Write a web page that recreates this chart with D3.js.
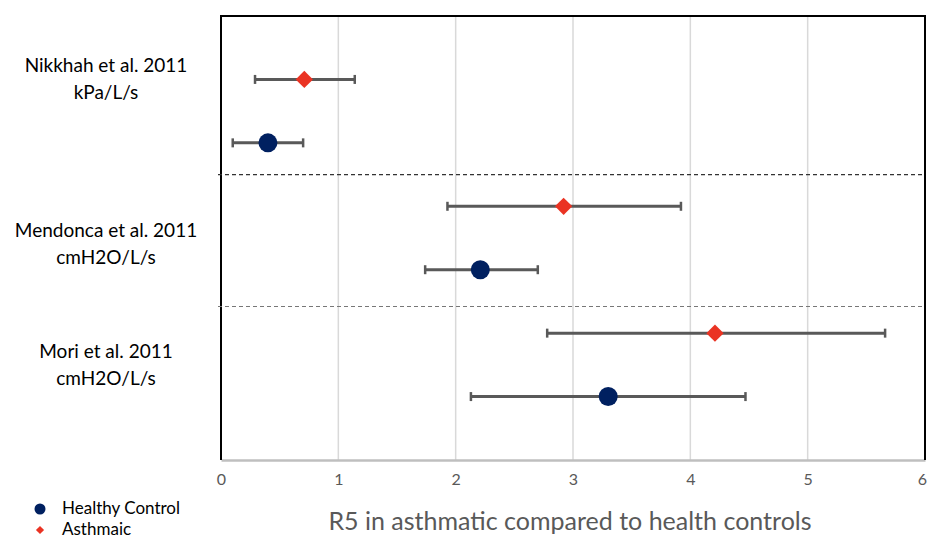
<!DOCTYPE html>
<html>
<head>
<meta charset="utf-8">
<script src="https://cdn.jsdelivr.net/npm/d3@7"></script>
<style>
body { margin: 0; background: #fff; }
text { font-family: Lato, "Open Sans", sans-serif; }
</style>
</head>
<body>
<div id="chart"></div>
<script>
// studies and units shown on the left
const studies = ["Nikkhah et al. 2011", "Mendonca et al. 2011", "Mori et al. 2011"];
const units = ["kPa/L/s", "cmH2O/L/s", "cmH2O/L/s"];
const labelRow = [6, 3.4, 1.5];

// healthy control
const healthyRow = [5, 3, 1];
const healthyMean = [0.40, 2.21, 3.30];
const healthyLow = [0.10, 1.74, 2.13];
const healthyHigh = [0.70, 2.70, 4.47];

// asthmatic
const asthmaRow = [6, 4, 2];
const asthmaMean = [0.71, 2.92, 4.21];
const asthmaLow = [0.29, 1.93, 2.78];
const asthmaHigh = [1.14, 3.92, 5.66];

const separators = [4.5, 2.42];
const xTicks = [0, 1, 2, 3, 4, 5, 6];

const width = 930, height = 539;
const margin = { top: 16, right: 5, bottom: 79, left: 221 };

const svg = d3.select("#chart").append("svg")
    .attr("width", width)
    .attr("height", height);

const x = d3.scaleLinear()
    .domain([0, 6])
    .range([margin.left, width - margin.right]);

const y = d3.scaleLinear()
    .domain([0, 7])
    .range([height - margin.bottom, margin.top]);

// gridlines
svg.append("g")
    .selectAll("line")
    .data(xTicks.slice(1, -1))
    .join("line")
    .attr("x1", d => x(d)).attr("x2", d => x(d))
    .attr("y1", y(7)).attr("y2", y(0))
    .attr("stroke", "#d9d9d9")
    .attr("stroke-width", 1.5);

// x axis
const xAxis = svg.append("g")
    .attr("transform", `translate(0,${y(0)})`)
    .call(d3.axisBottom(x).tickValues(xTicks).tickFormat(d3.format("d")).tickSize(0).tickPadding(14));
xAxis.select(".domain").attr("stroke", "#bfbfbf").attr("stroke-width", 2.5);
xAxis.selectAll("text")
    .attr("fill", "#595959")
    .style("font-size", "16px");
xAxis.selectAll(".tick:last-of-type text").attr("dx", -3);

// frame: left, top, right
svg.append("path")
    .attr("d", `M${x(0)},${y(0)}V${y(7)}H${x(6)}V${y(0)}`)
    .attr("fill", "none")
    .attr("stroke", "#000")
    .attr("stroke-width", 2);

// dashed separators
svg.append("g")
    .selectAll("line")
    .data(separators)
    .join("line")
    .attr("x1", x(0) - 3).attr("x2", x(6))
    .attr("y1", d => y(d)).attr("y2", d => y(d))
    .attr("stroke", (d, i) => i === 0 ? "#333" : "#777")
    .attr("stroke-width", 1.2)
    .attr("stroke-dasharray", "4,3");

// study labels
const labels = svg.append("g")
    .selectAll("text")
    .data(studies)
    .join("text")
    .attr("x", 106)
    .attr("y", (d, i) => y(labelRow[i]))
    .attr("text-anchor", "middle")
    .attr("fill", "#000")
    .style("font-size", "19px");
labels.append("tspan").attr("x", 106).attr("dy", -7).text(d => d);
labels.append("tspan").attr("x", 106).attr("dy", 27).text((d, i) => units[i]);

function errorBars(g, rows, low, high) {
    const bars = g.selectAll("g")
        .data(rows)
        .join("g")
        .attr("stroke", "#595959");
    bars.append("line")
        .attr("x1", (d, i) => x(low[i])).attr("x2", (d, i) => x(high[i]))
        .attr("y1", d => y(d)).attr("y2", d => y(d))
        .attr("stroke-width", 3);
    bars.append("line")
        .attr("x1", (d, i) => x(low[i])).attr("x2", (d, i) => x(low[i]))
        .attr("y1", d => y(d) - 4.5).attr("y2", d => y(d) + 4.5)
        .attr("stroke-width", 2.5);
    bars.append("line")
        .attr("x1", (d, i) => x(high[i])).attr("x2", (d, i) => x(high[i]))
        .attr("y1", d => y(d) - 4.5).attr("y2", d => y(d) + 4.5)
        .attr("stroke-width", 2.5);
}

errorBars(svg.append("g"), healthyRow, healthyLow, healthyHigh);
errorBars(svg.append("g"), asthmaRow, asthmaLow, asthmaHigh);

const navy = "#002060";
const red = "#ea3323";

svg.append("g")
    .selectAll("circle")
    .data(healthyRow)
    .join("circle")
    .attr("cx", (d, i) => x(healthyMean[i]))
    .attr("cy", d => y(d))
    .attr("r", 9.5)
    .attr("fill", navy);

// square rotated 45deg -> diamond
const diamond = d3.symbol().type(d3.symbolSquare).size(150);
svg.append("g")
    .selectAll("path")
    .data(asthmaRow)
    .join("path")
    .attr("d", diamond)
    .attr("transform", (d, i) => `translate(${x(asthmaMean[i])},${y(d)}) rotate(45)`)
    .attr("fill", red);

// axis title
svg.append("text")
    .attr("x", 570)
    .attr("y", 530)
    .attr("text-anchor", "middle")
    .attr("fill", "#595959")
    .style("font-size", "25px")
    .text("R5 in asthmatic compared to health controls");

// legend
const legend = svg.append("g");
legend.append("circle")
    .attr("cx", 40).attr("cy", 509).attr("r", 5.5)
    .attr("fill", navy);
legend.append("path")
    .attr("d", d3.symbol().type(d3.symbolSquare).size(34))
    .attr("transform", "translate(40,530) rotate(45)")
    .attr("fill", red);
legend.append("text")
    .attr("x", 62).attr("y", 514)
    .style("font-size", "17px")
    .text("Healthy Control");
legend.append("text")
    .attr("x", 62).attr("y", 535)
    .style("font-size", "17px")
    .text("Asthmaic");
</script>
</body>
</html>
